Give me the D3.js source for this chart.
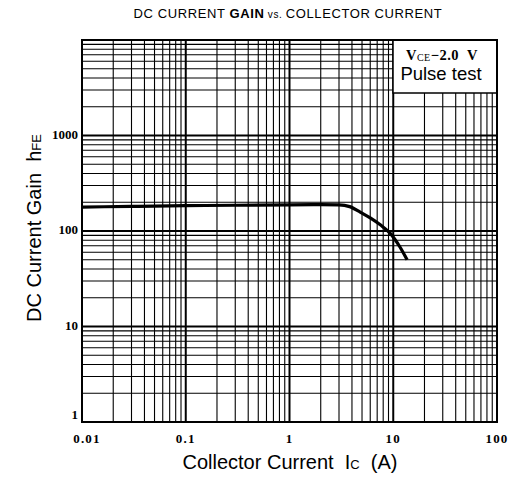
<!DOCTYPE html>
<html><head><meta charset="utf-8">
<script src="https://cdn.jsdelivr.net/npm/d3@7/dist/d3.min.js"></script>
<style>body{margin:0;background:#fff}svg{display:block}text{white-space:pre}</style>
</head><body>
<svg id="c" width="512" height="478"></svg>
<script>
const collectorCurrent = [0.01, 0.03, 0.1, 0.3, 1, 2, 3, 3.8, 4.8, 6, 7.5, 9.3, 11.6, 13.6];
const dcGain = [178, 181, 184, 186, 188, 189, 188, 180, 158, 137, 116, 95, 68, 50];
const xTicks = [0.01, 0.1, 1, 10, 100];
const xTickLabels = ["0.01", "0.1", "1", "10", "100"];
const yTicks = [1, 10, 100, 1000];
const yTickLabels = ["1", "10", "100", "1000"];

const svg = d3.select("#c");
const L = 82, R = 497, T = 40, B = 422;
const x = d3.scaleLog().domain([0.01, 100]).range([L, R]);
const y = d3.scaleLog().domain([1, 10000]).range([B, T]);

// grid
const g = svg.append("g");
const xs = [], ys = [];
for (let e = -2; e < 2; e++) for (let m = 1; m < 10; m++) xs.push({v: m * Math.pow(10, e), major: m === 1});
for (let e = 0; e < 4; e++) for (let m = 1; m < 10; m++) ys.push({v: m * Math.pow(10, e), major: m === 1});
g.selectAll(".vx").data(xs).join("line")
  .attr("x1", d => x(d.v)).attr("x2", d => x(d.v)).attr("y1", T).attr("y2", B)
  .attr("stroke", "#000").attr("stroke-width", d => d.major ? 2 : 1.1);
g.selectAll(".hy").data(ys).join("line")
  .attr("y1", d => y(d.v)).attr("y2", d => y(d.v)).attr("x1", L).attr("x2", R)
  .attr("stroke", "#000").attr("stroke-width", d => d.major ? 2 : 1.1);

// legend box
const bx = 393, by = 93;
svg.append("rect").attr("x", bx).attr("y", T).attr("width", R - bx).attr("height", by - T)
  .attr("fill", "#fff").attr("stroke", "#000").attr("stroke-width", 1.5);
const t1 = svg.append("text").attr("x", 442).attr("y", 60).attr("text-anchor", "middle")
  .attr("font-family", "Liberation Serif, serif").attr("font-weight", "bold").attr("font-size", 14.5)
  .attr("letter-spacing", 0.5);
t1.append("tspan").text("V");
t1.append("tspan").attr("font-size", 10).attr("font-weight", "normal").attr("dy", 1).text("CE");
t1.append("tspan").attr("dy", -1).text("\u22122.0  V");
svg.append("text").attr("x", 441).attr("y", 80).attr("text-anchor", "middle")
  .attr("font-family", "Liberation Sans, Arial, sans-serif").attr("font-size", 18.5).text("Pulse test");

// frame
svg.append("rect").attr("x", L).attr("y", T).attr("width", R - L).attr("height", B - T)
  .attr("fill", "none").attr("stroke", "#000").attr("stroke-width", 2);

// curve
const pts = collectorCurrent.map((c, i) => [c, dcGain[i]]);
svg.append("path").datum(pts)
  .attr("d", d3.line().x(d => x(d[0])).y(d => y(d[1])).curve(d3.curveMonotoneX))
  .attr("fill", "none").attr("stroke", "#000").attr("stroke-width", 3.2);

// tick labels
svg.selectAll(".xt").data(xTicks).join("text")
  .attr("x", (d, i) => i === 0 ? x(d) + 5 : x(d))
  .attr("y", 443).attr("text-anchor", "middle")
  .attr("font-family", "Liberation Serif, serif").attr("font-weight", "bold").attr("font-size", 13)
  .attr("letter-spacing", 1.2)
  .text((d, i) => xTickLabels[i]);
svg.selectAll(".yt").data(yTicks).join("text")
  .attr("x", 78).attr("y", d => y(d) + (d === 1 ? -3 : 3)).attr("text-anchor", "end")
  .attr("font-family", "Liberation Serif, serif").attr("font-weight", "bold").attr("font-size", 13)
  .text((d, i) => yTickLabels[i]);

// title
const tt = svg.append("text").attr("x", 288).attr("y", 18).attr("text-anchor", "middle")
  .attr("font-family", "Liberation Sans Narrow, Liberation Sans, sans-serif").attr("font-size", 13)
  .attr("letter-spacing", 0.6);
tt.append("tspan").text("DC CURRENT ");
tt.append("tspan").attr("font-weight", "bold").text("GAIN");
tt.append("tspan").attr("font-size", 10).text(" vs. ");
tt.append("tspan").text("COLLECTOR CURRENT");

// x title
const xl = svg.append("text").attr("x", 290).attr("y", 469).attr("text-anchor", "middle")
  .attr("font-family", "Liberation Sans, Arial, sans-serif").attr("font-size", 20);
xl.append("tspan").text("Collector Current  I");
xl.append("tspan").attr("font-size", 13).text("C");
xl.append("tspan").text("  (A)");

// y title
const yl = svg.append("text").attr("transform", "translate(41,228) rotate(-90)").attr("text-anchor", "middle")
  .attr("font-family", "Liberation Sans, Arial, sans-serif").attr("font-size", 20);
yl.append("tspan").text("DC Current Gain  h");
yl.append("tspan").attr("font-size", 13).text("FE");
</script>
</body></html>
